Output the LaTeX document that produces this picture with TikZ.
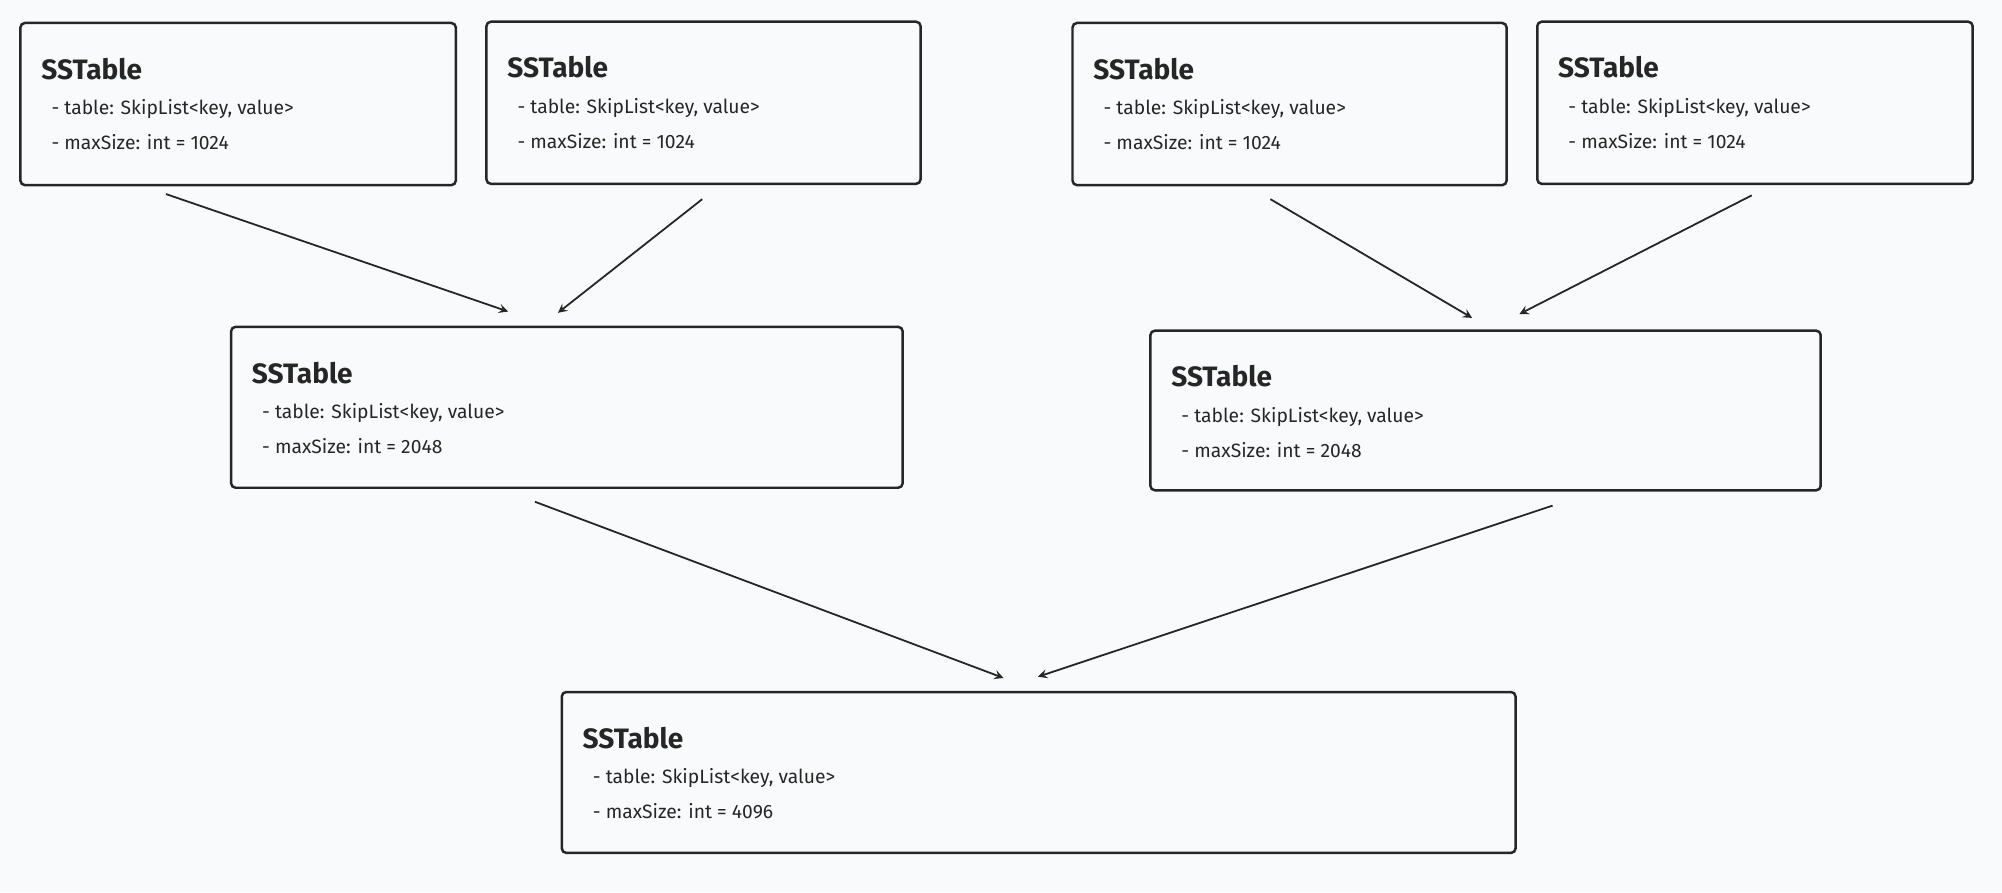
\documentclass[tikz,border=0pt]{standalone}
\usepackage{fontspec}
\setmainfont{Fira Sans}
\begin{document}
\begin{tikzpicture}[x=0.02cm,y=-0.02cm,
  box/.style={draw=black!85,line width=1.1pt,rounded corners=2pt},
  ttl/.style={anchor=base west,font=\fontsize{12.5}{14}\selectfont\bfseries,text=black!85,inner sep=0},
  ln/.style={anchor=base west,font=\fontsize{8.6}{10}\selectfont,text=black!85,inner sep=0},
  arr/.style={draw=black!85,line width=0.8pt,->,>=stealth}]
\fill[fill={rgb,255:red,249;green,250;blue,251}] (0,0) rectangle (1568,699);
\useasboundingbox (0,0) rectangle (1568,699);
\newcommand{\sst}[6]{%
  \draw[box] (#2,#3) rectangle (#4,#5);
  \node[ttl] (#1t) at (#2+16,#3+44) {SSTable};
  \node[ln] (#1a) at (#2+24,#3+72) {- table: SkipList<key, value>};
  \node[ln] (#1b) at (#2+24,#3+99) {- maxSize: int = #6};}
\sst{A}{16}{18}{357}{145}{1024}
\sst{B}{381}{17}{721}{144}{1024}
\sst{C}{840}{18}{1180}{145}{1024}
\sst{D}{1204}{17}{1545}{144}{1024}
\sst{E}{181}{256}{707}{382}{2048}
\sst{F}{901}{259}{1426}{384}{2048}
\sst{G}{440}{542}{1187}{668}{4096}
\coordinate (a1) at (130,152); \coordinate (a2) at (398,244);
\coordinate (b1) at (550,156); \coordinate (b2) at (437,245);
\coordinate (c1) at (995,156); \coordinate (c2) at (1153,249);
\coordinate (d1) at (1372,153); \coordinate (d2) at (1190,246);
\coordinate (e1) at (419,393); \coordinate (e2) at (786,531);
\coordinate (f1) at (1216,396); \coordinate (f2) at (813,530);
\draw[arr] (a1) -- (a2);
\draw[arr] (b1) -- (b2);
\draw[arr] (c1) -- (c2);
\draw[arr] (d1) -- (d2);
\draw[arr] (e1) -- (e2);
\draw[arr] (f1) -- (f2);
\end{tikzpicture}
\end{document}
